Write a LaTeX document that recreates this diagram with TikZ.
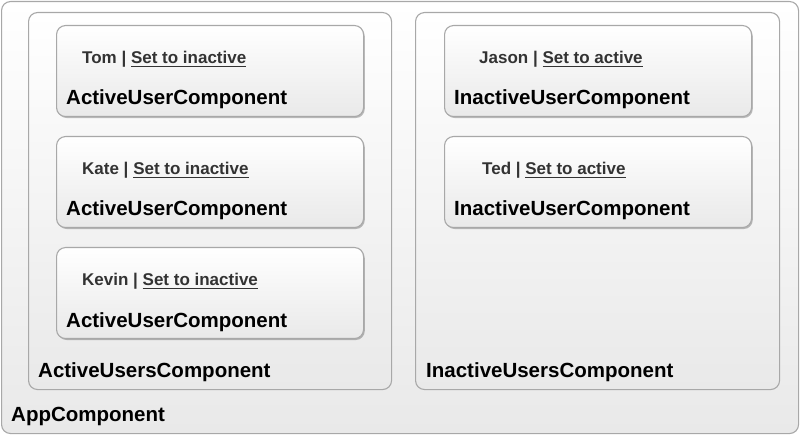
\documentclass[tikz,border=0pt]{standalone}
\usepackage{fontspec}
\setmainfont{Liberation Sans}
\usetikzlibrary{shadows}
\definecolor{edge}{HTML}{A8A8A8}
\definecolor{linktext}{HTML}{333333}
\definecolor{bottomgrey}{HTML}{E9E9E9}
\newcommand\myul[1]{\setbox0\hbox{#1}\rlap{\rule[-3pt]{\wd0}{1.4pt}}\box0}
\begin{document}
\begin{tikzpicture}[x=1pt,y=-1pt,
  panel/.style={draw=edge,line width=1.1pt,rounded corners=9pt,top color=white,bottom color=bottomgrey,anchor=north west,inner sep=0pt},
  ubox/.style={panel,minimum width=307pt,minimum height=91pt,
    drop shadow={shadow xshift=1.2pt,shadow yshift=-1.5pt,opacity=0.25,fill=black}},
  ctitle/.style={anchor=base west,inner sep=0pt,font=\bfseries\fontsize{20.5}{24}\selectfont,text=black},
  uline/.style={anchor=base west,inner sep=0pt,font=\bfseries\fontsize{17}{20}\selectfont,text=linktext}]
\useasboundingbox (0,0) rectangle (800,435);
\node[panel,minimum width=797pt,minimum height=432pt] (app) at (1,1) {};
\node[panel,minimum width=363pt,minimum height=377pt] (active) at (28,12) {};
\node[panel,minimum width=364pt,minimum height=377pt] (inactive) at (415,12) {};
% user boxes
\node[ubox] (tom) at (56,25) {};
\node[ubox] (kate) at (56,136) {};
\node[ubox] (kevin) at (56,247) {};
\node[ubox] (jason) at (444,25) {};
\node[ubox] (ted) at (444,136) {};
% user lines
\node[uline] (tomt) at (82,64) {Tom | \myul{Set to inactive}};
\node[uline] (katet) at (82,175) {Kate | \myul{Set to inactive}};
\node[uline] (kevint) at (82,286) {Kevin | \myul{Set to inactive}};
\node[uline] (jasont) at (479,64) {Jason | \myul{Set to active}};
\node[uline] (tedt) at (482,175) {Ted | \myul{Set to active}};
% component titles
\node[ctitle] (tomc) at (66,105) {ActiveUserComponent};
\node[ctitle] (katec) at (66,216) {ActiveUserComponent};
\node[ctitle] (kevinc) at (66,327) {ActiveUserComponent};
\node[ctitle] (jasonc) at (454,105) {InactiveUserComponent};
\node[ctitle] (tedc) at (454,216) {InactiveUserComponent};
\node[ctitle] (activec) at (38,377) {ActiveUsersComponent};
\node[ctitle] (inactivec) at (426,377) {InactiveUsersComponent};
\node[ctitle] (appc) at (11,421) {AppComponent};
\end{tikzpicture}
\end{document}
